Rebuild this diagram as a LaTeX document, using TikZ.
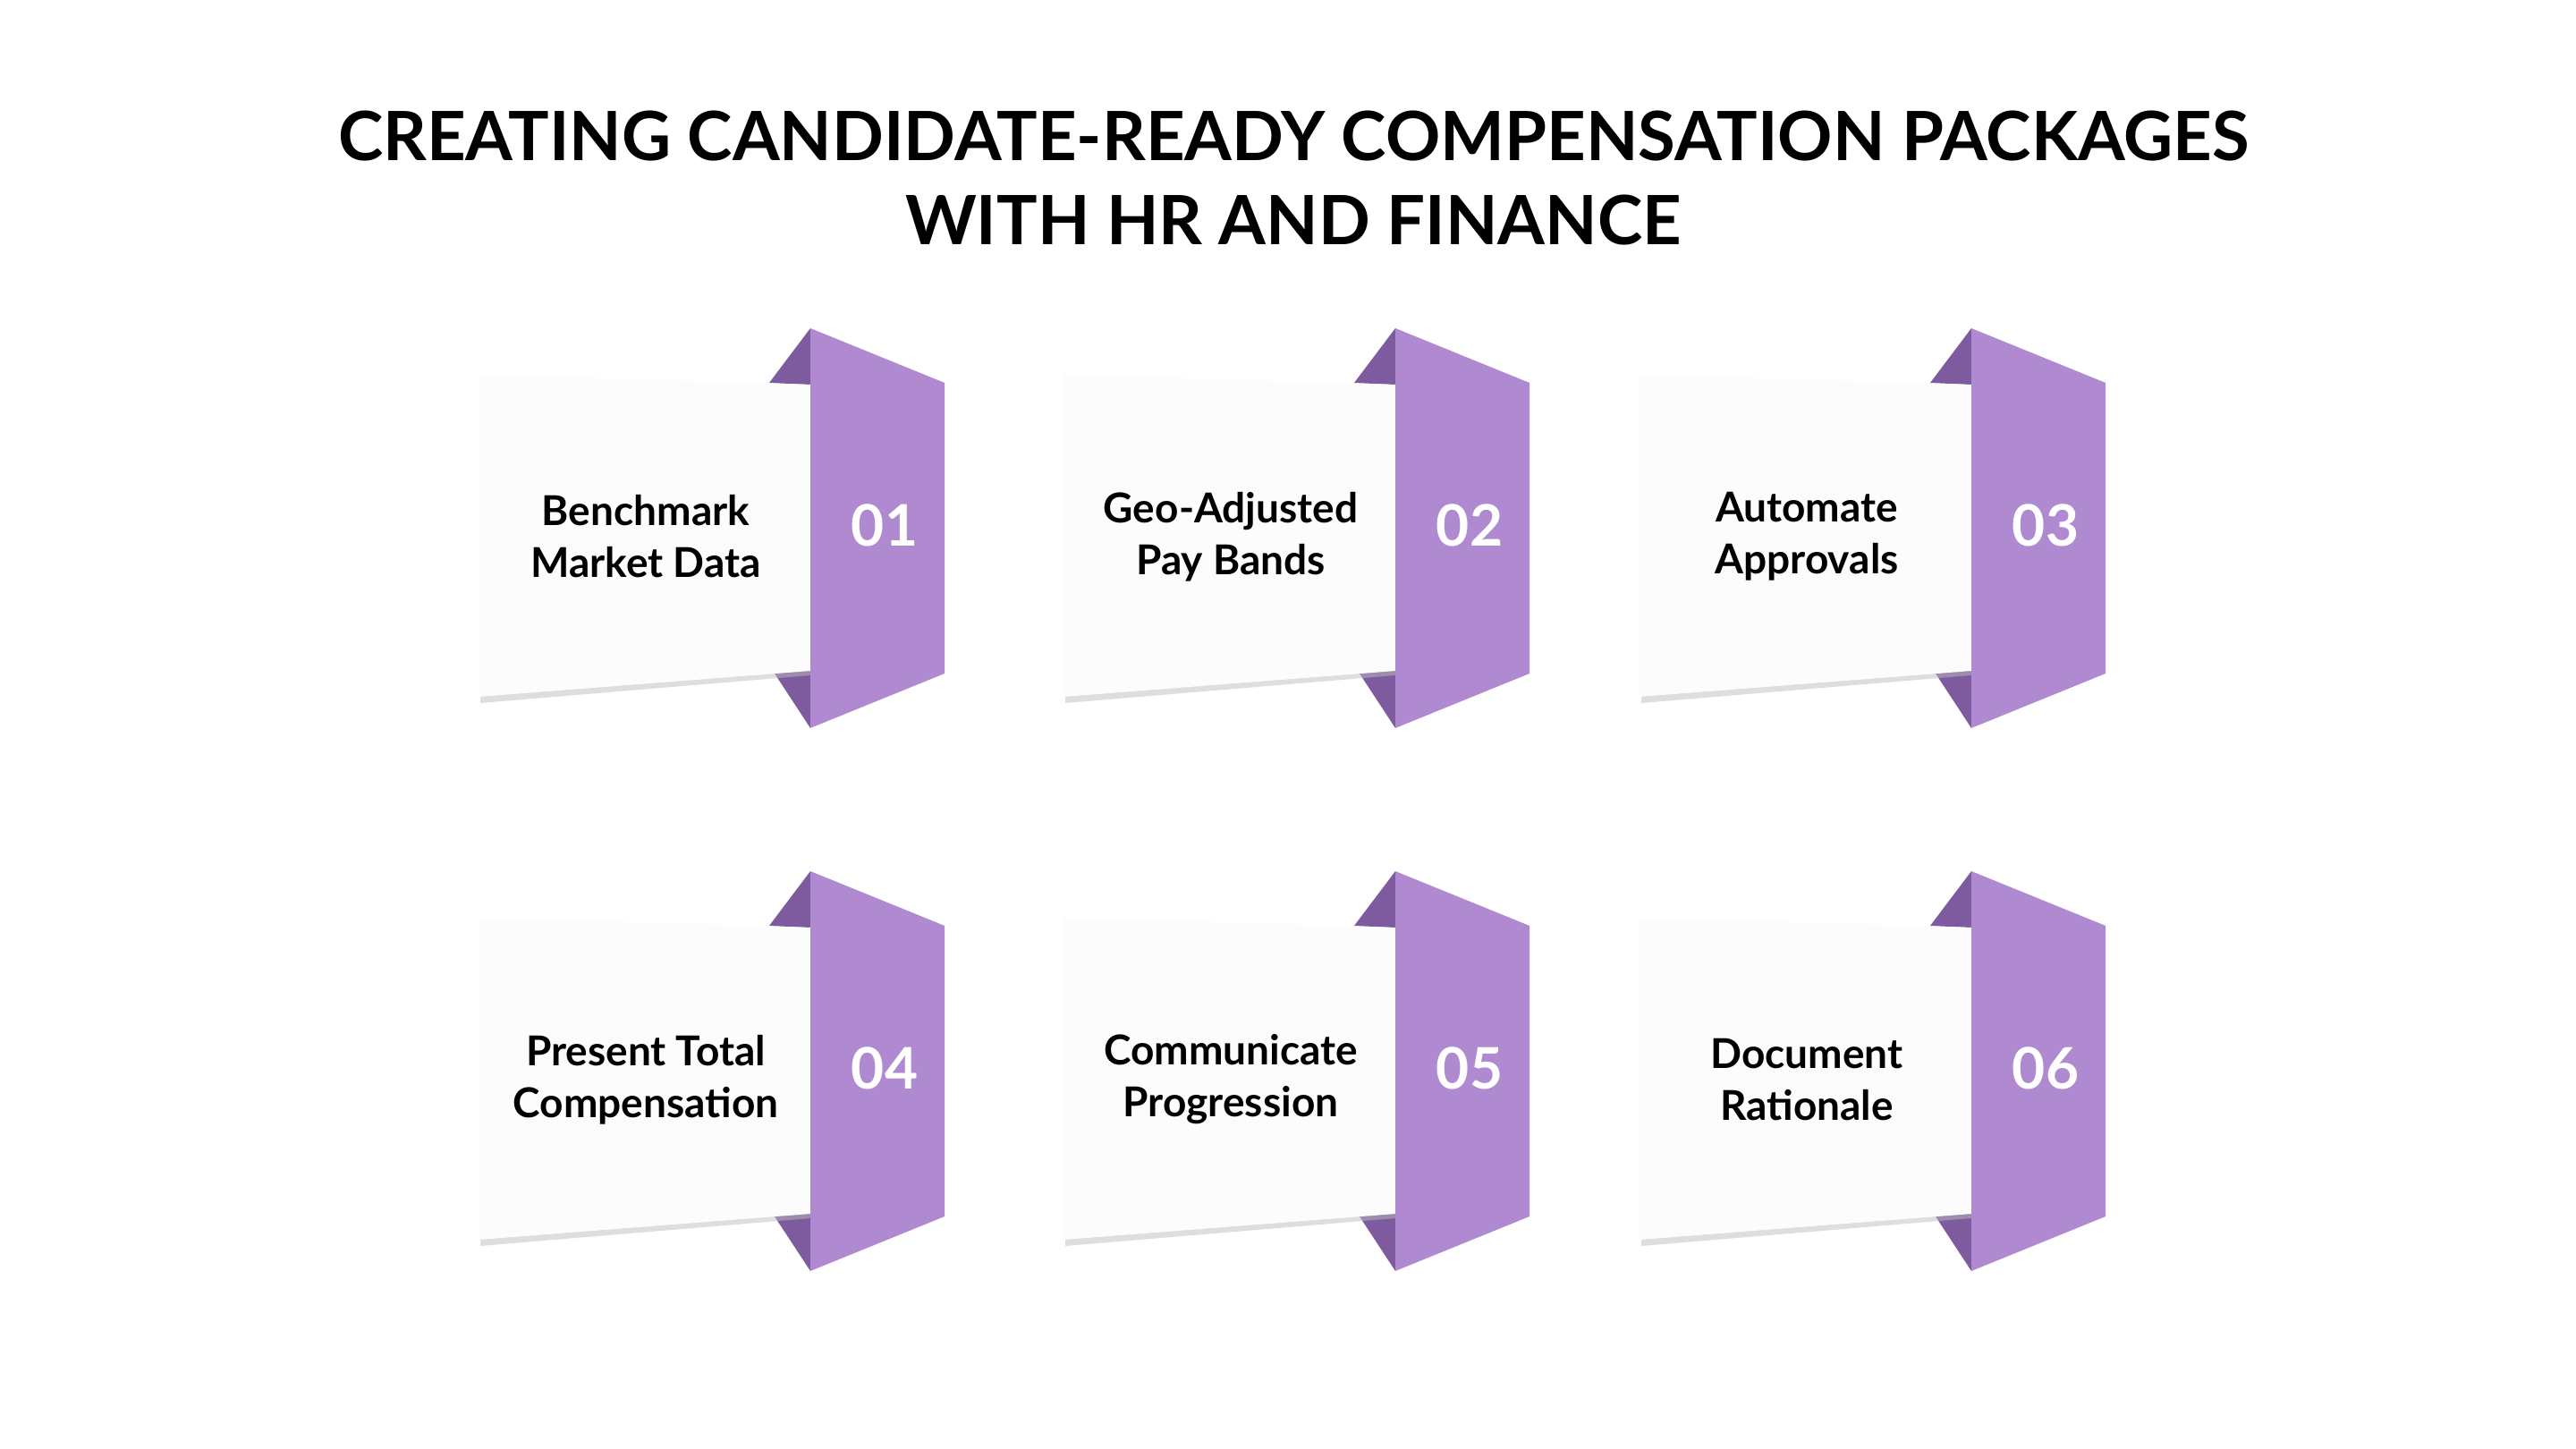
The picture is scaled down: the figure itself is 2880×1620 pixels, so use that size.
\documentclass[tikz,border=0pt]{standalone}
\usepackage{fontspec}
\setmainfont{Lato}
\definecolor{pur}{HTML}{B08AD1}
\definecolor{purd}{HTML}{7E5A9F}
\definecolor{card}{HTML}{FCFCFC}
\begin{document}
\begin{tikzpicture}[x=0.5pt,y=-0.5pt,
  lbl/.style={align=center,font=\fontsize{23}{29}\selectfont\bfseries,text=black},
  num/.style={font=\fontsize{32}{36}\selectfont\bfseries,text=white},
  ttl/.style={align=center,font=\fontsize{38}{47}\selectfont\bfseries}]
\fill[white] (0,0) rectangle (2880,1620);
\useasboundingbox (0,0) rectangle (2880,1620);
\node[ttl] (title) at (1446,199) {CREATING CANDIDATE-READY COMPENSATION PACKAGES\\WITH HR AND FINANCE};
\foreach \i/\dx/\dy/\t/\n in {1/0/0/{Benchmark\\Market Data}/01, 2/654/0/{Geo-Adjusted\\Pay Bands}/02, 3/1298/0/{Automate\\Approvals}/03, 4/0/607/{Present Total\\Compensation}/04, 5/654/607/{Communicate\\Progression}/05, 6/1298/607/{Document\\Rationale}/06}{
\begin{scope}[shift={(\dx,\dy)}]
  \fill[purd] (906,367) -- (860,428) -- (906,430) -- cycle;
  \fill[purd] (864,750) -- (906,814) -- (906,745) -- cycle;
  \fill[black!25,opacity=0.5] (537,424) -- (906,435) -- (906,755) -- (537,786) -- cycle;
  \fill[card] (535,419) -- (906,430) -- (906,750) -- (535,779) -- cycle;
  \fill[pur] (906,367) -- (1056,428) -- (1056,753) -- (906,814) -- cycle;
  \node[lbl] (t\i) at (722,600) {\t};
  \node[num] (n\i) at (989,587) {\n};
\end{scope}}
\end{tikzpicture}
\end{document}
